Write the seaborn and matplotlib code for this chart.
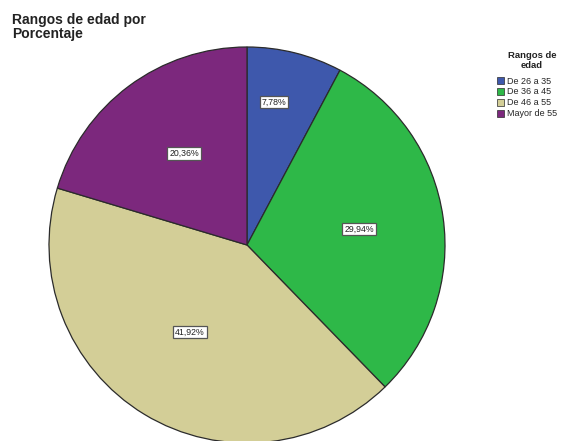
import numpy as np
import matplotlib
matplotlib.use("Agg")
import matplotlib.pyplot as plt
import seaborn as sns

# Age ranges and their share of respondents (%)
categories = ["De 26 a 35", "De 36 a 45", "De 46 a 55", "Mayor de 55"]
percentages = [7.78, 29.94, 41.92, 20.36]
colors_hex = ["#3E58AC", "#2EB848", "#D3CE97", "#7C287D"]

sns.set_theme(style="white")
plt.rcParams["font.family"] = ["Liberation Sans", "DejaVu Sans"]
palette = sns.color_palette(colors_hex)

fig = plt.figure(figsize=(5.65, 4.41), dpi=100)
fig.patch.set_facecolor("white")

# Pie occupies a square region centred left of middle
W, H = 565, 441
cx, cy, r = 247, 245, 198
ax = fig.add_axes([(cx - r) / W, (H - cy - r) / H, 2 * r / W, 2 * r / H])

wedges, _ = ax.pie(
    percentages,
    colors=palette,
    startangle=90,
    counterclock=False,
    radius=1.0,
    wedgeprops=dict(edgecolor="#2b2b2b", linewidth=0.9),
)
ax.set_xlim(-1, 1)
ax.set_ylim(-1, 1)
ax.set_aspect("equal")
ax.axis("off")

# Percent labels in small boxed tags inside each slice
label_radius = [0.735, 0.572, 0.525, 0.56]
label_angle_shift = [3.3, 0.0, -2.0, -2.0]
for w, p, lr, da in zip(wedges, percentages, label_radius, label_angle_shift):
    ang = np.deg2rad((w.theta1 + w.theta2) / 2 + da)
    ax.text(
        lr * np.cos(ang), lr * np.sin(ang),
        f"{p:.2f}%".replace(".", ","),
        ha="center", va="center", fontsize=6.3, color="#222222",
        bbox=dict(boxstyle="square,pad=0.22", facecolor="white",
                  edgecolor="#555555", linewidth=0.9),
    )

fig.text(12 / W, 1 - 13 / H, "Rangos de edad por\nPorcentaje",
         ha="left", va="top", fontsize=10.0, fontweight="bold",
         color="#222222", linespacing=0.98)

# Legend heading, centred above the swatches
fig.text(532 / W, 1 - 51 / H, "Rangos de\nedad",
         ha="center", va="top", fontsize=6.8, fontweight="bold",
         color="#222222", linespacing=1.17, multialignment="center")

leg = fig.legend(
    wedges, categories,
    loc="upper left",
    bbox_to_anchor=(497 / W, 1 - 76.5 / H),
    frameon=False,
    fontsize=6.5,
    handlelength=0.8, handleheight=0.8, handletextpad=0.35,
    labelspacing=0.21, borderpad=0.0, borderaxespad=0.0,
)
for h in leg.legend_handles:
    h.set_linewidth(0.5)

fig.savefig("out.png", dpi=100, facecolor="white")
